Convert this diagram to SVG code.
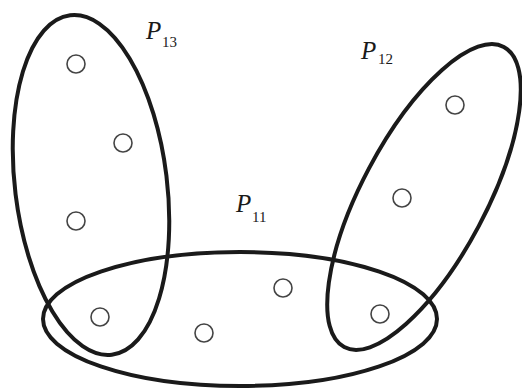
<svg xmlns="http://www.w3.org/2000/svg" width="522" height="389" viewBox="0 0 522 389">
<style>
.set{fill:none;stroke:#1a1a1a;stroke-width:4}
.pt{fill:none;stroke:#444;stroke-width:1.6}
.lbl{font-family:"Liberation Serif",serif;font-style:italic;font-size:25px;fill:#1a1a1a}
.sub{font-family:"Liberation Serif",serif;font-size:15px;fill:#1a1a1a}
</style>
<rect width="522" height="389" fill="#fff"/>
<g id="P13">
<ellipse class="set" cx="91" cy="185" rx="76" ry="171" transform="rotate(-7 91 185)"/>
<text class="lbl" x="146" y="39">P</text><text class="sub" x="162" y="47">13</text>
</g>
<g id="P12">
<ellipse class="set" cx="424" cy="197" rx="62" ry="170" transform="rotate(28 424 197)"/>
<text class="lbl" x="361" y="59">P</text><text class="sub" x="378" y="64">12</text>
</g>
<g id="P11">
<ellipse class="set" cx="240" cy="319" rx="197" ry="67"/>
<text class="lbl" x="236" y="212">P</text><text class="sub" x="252" y="222">11</text>
</g>
<g id="points">
<circle class="pt" cx="76" cy="64" r="9"/>
<circle class="pt" cx="123" cy="143" r="9"/>
<circle class="pt" cx="76" cy="221" r="9"/>
<circle class="pt" cx="100" cy="317" r="9"/>
<circle class="pt" cx="204" cy="333" r="9"/>
<circle class="pt" cx="283" cy="288" r="9"/>
<circle class="pt" cx="380" cy="314" r="9"/>
<circle class="pt" cx="402" cy="198" r="9"/>
<circle class="pt" cx="455" cy="105" r="9"/>
</g>
<g id="connectors"></g>
</svg>
